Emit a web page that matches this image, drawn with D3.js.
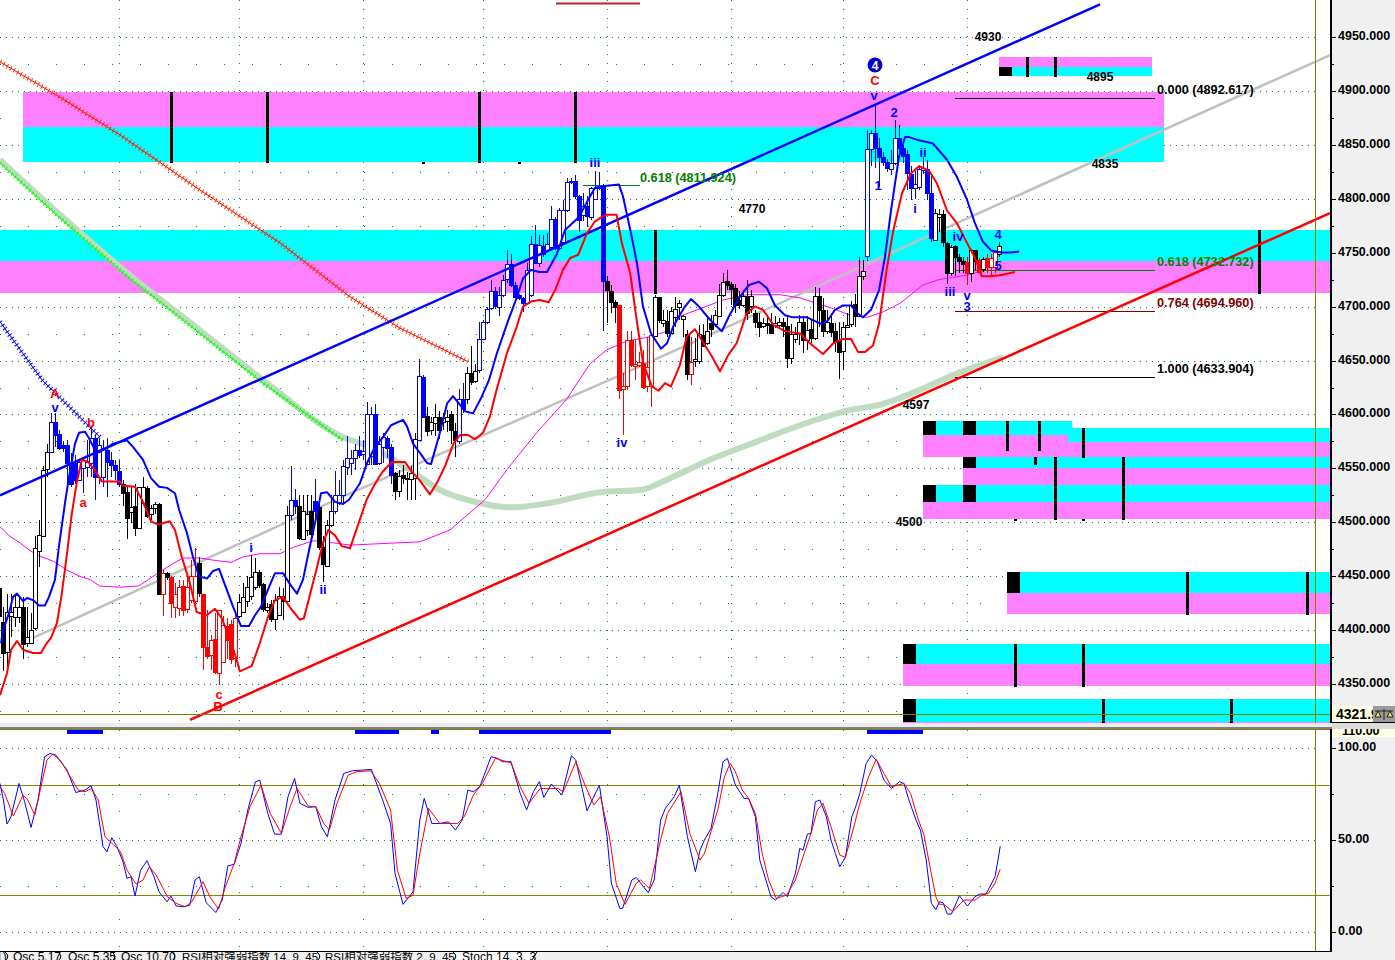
<!DOCTYPE html>
<html><head><meta charset="utf-8">
<script src="https://cdn.jsdelivr.net/npm/d3@7/dist/d3.min.js"></script>
<style>html,body{margin:0;padding:0;background:#fff;overflow:hidden}svg{display:block}
text{font-family:"Liberation Sans",Arial,sans-serif}</style></head><body>
<svg id="c" width="1395" height="960"></svg>
<script>
const opens=[4439,4408,4380,4413,4413,4413,4422,4388,4388,4402,
4473,4488,4549,4565,4593,4582,4572,4572,4555,4555,
4539,4551,4551,4555,4578,4542,4542,4567,4558,4553,
4548,4536,4528,4509,4515,4495,4518,4532,4507,4513,
4517,4434,4453,4449,4422,4421,4441,4420,4428,4427,
4462,4434,4385,4377,4392,4361,4371,4404,4406,4374,
4413,4417,4427,4431,4440,4454,4443,4419,4424,4410,
4414,4432,4427,4507,4521,4515,4485,4493,4511,4520,
4514,4477,4460,4498,4510,4518,4525,4552,4555,4560,
4567,4563,4554,4561,4600,4555,4570,4578,4570,4546,
4529,4544,4540,4540,4541,4577,4635,4599,4586,4592,
4598,4593,4594,4600,4585,4575,4614,4614,4638,4631,
4641,4670,4686,4698,4714,4700,4711,4725,4739,4720,
4711,4708,4703,4711,4758,4740,4756,4752,4755,4781,
4754,4759,4789,4815,4816,4802,4785,4793,4783,4800,
4810,4812,4724,4714,4704,4701,4623,4626,4669,4645,
4646,4648,4626,4627,4673,4709,4685,4687,4676,4691,
4699,4688,4675,4638,4649,4650,4674,4666,4685,4684,
4692,4711,4724,4721,4717,4706,4702,4710,4701,4694,
4686,4682,4685,4684,4683,4683,4686,4682,4653,4670,
4676,4686,4669,4679,4671,4710,4697,4678,4685,4677,
4669,4659,4681,4683,4702,4691,4728,4747,4846,4861,
4847,4839,4834,4827,4833,4856,4847,4841,4823,4810,
4810,4826,4827,4805,4762,4783,4786,4759,4731,4756,
4746,4742,4741,4731,4752,4743,4735,4745,4737,4737,
4749];
const closes=[4413,4379,4417,4417,4422,4422,4388,4394,4400,4476,
4488,4549,4565,4593,4581,4569,4569,4555,4536,4539,
4556,4558,4556,4578,4542,4572,4569,4556,4553,4548,
4536,4528,4504,4514,4495,4533,4533,4506,4513,4517,
4434,4453,4449,4425,4434,4440,4419,4440,4450,4450,
4434,4385,4377,4391,4361,4419,4405,4391,4374,4411,
4426,4431,4440,4449,4454,4442,4420,4422,4410,4428,
4432,4427,4507,4521,4515,4485,4511,4508,4490,4511,
4477,4461,4498,4511,4525,4525,4552,4560,4560,4567,
4562,4566,4600,4600,4554,4573,4579,4569,4544,4529,
4543,4541,4541,4546,4577,4636,4598,4585,4593,4598,
4586,4597,4598,4585,4577,4614,4605,4638,4630,4640,
4670,4686,4698,4714,4700,4711,4725,4739,4720,4709,
4708,4703,4734,4758,4740,4757,4749,4758,4781,4754,
4789,4789,4815,4816,4802,4780,4793,4784,4810,4810,
4812,4724,4716,4704,4699,4622,4626,4669,4646,4647,
4649,4626,4644,4674,4709,4688,4688,4676,4696,4698,
4703,4691,4638,4649,4651,4675,4664,4677,4679,4692,
4711,4723,4720,4716,4701,4701,4710,4694,4710,4686,
4681,4685,4683,4676,4685,4686,4682,4652,4675,4675,
4686,4669,4678,4671,4710,4697,4678,4686,4677,4667,
4658,4681,4683,4701,4691,4728,4733,4846,4861,4847,
4839,4834,4828,4833,4856,4847,4840,4823,4810,4814,
4827,4828,4805,4763,4787,4786,4760,4731,4755,4746,
4742,4739,4731,4752,4742,4732,4744,4737,4745,4751,
4756];
const highs=[4439,4422,4434,4434,4434,4431,4431,4422,4416,4487,
4502,4552,4573,4601,4601,4586,4575,4576,4564,4562,
4559,4559,4576,4589,4581,4578,4576,4578,4565,4558,
4558,4539,4533,4533,4536,4533,4542,4534,4516,4519,
4518,4456,4454,4450,4444,4447,4447,4450,4465,4476,
4468,4434,4419,4396,4416,4419,4413,4411,4410,4414,
4434,4444,4450,4470,4467,4456,4444,4425,4428,4434,
4440,4439,4515,4552,4531,4525,4525,4525,4525,4540,
4521,4487,4502,4525,4548,4539,4558,4580,4567,4573,
4580,4576,4612,4607,4610,4580,4583,4580,4573,4547,
4549,4553,4547,4552,4583,4651,4637,4607,4598,4610,
4603,4601,4604,4603,4592,4624,4629,4644,4663,4647,
4686,4688,4700,4725,4718,4718,4729,4752,4749,4723,
4712,4709,4740,4765,4776,4766,4766,4768,4793,4783,
4791,4799,4819,4819,4822,4803,4805,4802,4811,4826,
4825,4814,4728,4720,4706,4701,4638,4677,4677,4669,
4658,4660,4672,4675,4711,4709,4697,4697,4700,4709,
4706,4692,4678,4672,4671,4683,4684,4691,4692,4697,
4721,4731,4734,4723,4721,4714,4715,4725,4715,4697,
4694,4689,4692,4694,4691,4689,4689,4691,4684,4681,
4692,4691,4691,4688,4718,4717,4708,4697,4694,4685,
4686,4686,4694,4705,4712,4746,4743,4864,4864,4888,
4856,4843,4837,4845,4873,4868,4850,4845,4830,4826,
4831,4839,4836,4823,4790,4790,4789,4760,4757,4757,
4749,4746,4746,4753,4752,4745,4746,4749,4749,4751,
4760];
const lows=[4407,4362,4360,4394,4403,4407,4373,4385,4388,4400,
4459,4488,4542,4564,4570,4567,4565,4536,4533,4536,
4538,4527,4542,4542,4521,4536,4533,4524,4542,4539,
4533,4515,4485,4499,4487,4494,4516,4504,4502,4508,
4434,4413,4447,4411,4411,4413,4413,4416,4425,4425,
4431,4363,4373,4363,4360,4349,4371,4373,4369,4366,
4411,4416,4422,4428,4437,4439,4417,4416,4408,4400,
4413,4410,4425,4502,4508,4484,4484,4487,4487,4502,
4474,4445,4459,4496,4508,4516,4518,4544,4544,4549,
4560,4558,4553,4553,4553,4553,4555,4560,4536,4521,
4524,4536,4521,4521,4521,4576,4597,4580,4581,4580,
4577,4586,4584,4573,4561,4573,4601,4610,4627,4629,
4638,4669,4684,4697,4698,4691,4709,4722,4718,4708,
4706,4695,4703,4709,4739,4737,4746,4751,4752,4752,
4752,4757,4788,4814,4800,4769,4779,4774,4780,4799,
4808,4677,4685,4694,4685,4614,4581,4623,4644,4632,
4644,4624,4621,4607,4672,4685,4681,4672,4676,4681,
4688,4672,4632,4627,4644,4647,4664,4664,4672,4681,
4691,4709,4715,4701,4694,4698,4700,4688,4694,4680,
4672,4680,4675,4675,4680,4681,4672,4643,4647,4666,
4664,4657,4660,4666,4669,4681,4672,4675,4672,4658,
4633,4641,4680,4681,4681,4691,4725,4742,4830,4828,
4811,4830,4825,4822,4831,4842,4833,4808,4799,4800,
4808,4823,4799,4760,4762,4769,4755,4721,4728,4728,
4731,4731,4720,4723,4734,4731,4732,4731,4729,4731,
4746];
const toneRuns=[['k',13],['b',18],['k',10],['r',1],['k',1],['r',7],['k',1],['r',9],['k',13],['b',2],['k',4],['b',1],['k',4],['b',15],['k',6],['b',2],['k',8],['b',2],['k',3],['b',32],['k',3],['r',9],['k',9],['r',1],['k',43],['b',17],['k',8],['r',1],['k',2],['r',1],['k',1],['r',3],['k',1]];

const blueBandIdx=[0.5,1,2.5,3.5,4.5,6,7,8.5,10,11.5,12.5,14,15,16.5,17.5,19,20,21.5,22.5,24,25,27,28.5,32,33.5,36,38,40,42,44,45,47,48.5,50,52,53.5,55,57,58.5,60.5,62.5,64,65.5,67.5,69,71,72.5,74.5,76,77.5,79.5,80.5,82,84,86,87.5,90.2,92,94,96,98,101,102,103.5,105.5,107,108,110,112,113.5,115,116.5,118.5,120.5,122.5,124.5,127,129.5,131,133,135,137,139.5,141.5,143,145,147,149,152,155,156,158,159.5,161,163,165.5,167,168.5,170,171.5,173,175,177.7,180.7,182.5,185,187.5,190,192,194,196.5,198.5,202,205.5,207,209,211,213,214.5,216,218,220,221.5,223,225,226.5,227.5,230,233.5,237,239.5,242,244,246,248,250.5,253,255];
const blueBandVal=[4388,4400,4416,4431,4434,4427,4430,4428,4423,4423,4431,4447,4478,4518,4542,4573,4583,4584,4578,4567,4565,4569,4573,4576,4570,4558,4541,4533,4532,4527,4512,4490,4468,4450,4448,4455,4457,4437,4422,4404,4404,4414,4422,4440,4453,4453,4444,4434,4447,4474,4508,4527,4528,4519,4517,4521,4536,4555,4570,4579,4590,4595,4589,4573,4563,4555,4554,4580,4610,4617,4610,4603,4601,4615,4632,4657,4684,4709,4726,4734,4732,4732,4749,4771,4776,4783,4797,4810,4812,4813,4802,4768,4740,4700,4675,4661,4666,4681,4691,4700,4707,4700,4688,4677,4691,4708,4720,4723,4717,4701,4692,4690,4690,4684,4686,4697,4701,4701,4694,4690,4697,4715,4746,4789,4839,4857,4857,4854,4851,4836,4820,4799,4777,4760,4752,4750,4750,4751];
const redBandIdx=[0.25,2,3,4.5,6,8.5,10.5,11.9,13,14.5,15.7,17,18.2,19.4,20.7,22.3,24,25.7,30.2,31,34,36,38,39.8,42.7,44,45.7,47.7,49.4,51.9,54,55.7,57.8,59.4,60.2,63.2,65.2,67.3,69,71,73,75.2,76.2,77.8,79.4,81,82.3,84,85.7,87.75,91.9,93.6,95.7,98.2,101.5,103.2,105.2,107.7,109.4,111.5,113.6,115.3,117.3,119,121,122.7,124.4,127,129.4,131,133.2,135.2,137.4,139,141,142.8,144.8,147,149,151.5,154.4,155.7,157.8,159.4,161,163.2,164.9,166.5,168,170.25,171.9,174,176,178.2,180.25,182.3,184.4,186.9,189,191,193.6,196.6,200.25,202.75,206,208.6,211,213,214.75,216.5,218.5,220,221.9,223.6,225.75,227.9,230,232.5,234.5,237,239.5,242,244,245.7,247.8,250.25,254];
const redBandVal=[4340,4360,4382,4390,4382,4379,4379,4388,4393,4407,4434,4471,4508,4536,4558,4556,4548,4538,4538,4534,4533,4519,4501,4498,4501,4493,4468,4444,4417,4414,4420,4411,4391,4373,4362,4367,4388,4413,4428,4431,4420,4410,4411,4434,4457,4481,4493,4488,4478,4476,4521,4533,4546,4556,4556,4547,4539,4526,4536,4552,4573,4581,4581,4577,4583,4598,4623,4657,4681,4700,4705,4706,4704,4715,4734,4745,4748,4768,4779,4785,4785,4759,4731,4688,4648,4626,4622,4629,4626,4646,4672,4679,4667,4654,4640,4655,4666,4694,4700,4697,4683,4677,4675,4666,4656,4666,4670,4670,4658,4658,4664,4684,4734,4771,4805,4823,4830,4826,4814,4789,4777,4759,4745,4728,4728,4729,4732];
const magentaIdx=[0.25,2.75,5.25,7.75,9.4,13.6,16.9,20.25,22.75,25.25,30.25,34.85,37.75,41,43.6,46,50.25,53.6,58,61,65.25,70.25,73.6,78.6,83.6,87.75,105.25,112.75,117.75,121.5,127,134.4,141.9,147.75,152,157,162.75,167.75,170.25,175.25,181,186.9,195.25,200.25,204.4,208.6,212.75,217,221,225.25,231,235,241.9,246];
const magentaVal=[4496,4487,4481,4474,4470,4464,4456,4450,4447,4441,4440,4441,4448,4456,4462,4467,4467,4465,4463,4468,4471,4471,4477,4483,4481,4479,4482,4493,4509,4521,4549,4583,4614,4647,4660,4668,4672,4678,4691,4698,4706,4711,4711,4708,4703,4698,4692,4690,4695,4703,4720,4725,4729,4733];
const greyIdx=[7.25,87.75,154.5,220.25,257.75,332.75];
const greyVal=[4391,4527,4635,4745,4808,4933];
const channelUpIdx=[0.25,275.25];   const channelUpVal=[4525,4980];
const channelLowIdx=[47.75,332.75]; const channelLowVal=[4317,4786.6];
const redHatchIdx=[0.25,15.25,30.25,50.25,70.25,87.75,100.25,117.25];
const redHatchVal=[4926.6,4894,4859,4808,4759,4709,4680,4649];
const greenHatchIdx=[0.25,15.25,32.75,50.25,66,86];
const greenHatchVal=[4833,4782,4726,4675,4629,4576];
const blueHatchIdx=[0.25,10.75,25.25];
const blueHatchVal=[4686,4632,4579];
const paleGreenIdx=[0.25,15.25,32.75,50.25,66,86,92.75,102.75,110.25,120.25,127.75,137.75,150.25,160.25,167.75,177.75,190.25,200.25,212.75,220.25,230.25,240.25,251];
const paleGreenVal=[4836,4785,4729,4678,4632,4579,4570,4548.5,4530,4518,4514,4518,4528,4530,4541,4558,4576,4590,4604,4609,4623,4639,4653];

const stochBlueIdx=[0.25,1.1,2,3,5,6.4,8,9.75,11.4,12.75,14.2,17,19.2,21.5,23,24.25,26,27,28.2,29.5,31,32,33,34,35.4,37,38.75,40,42,43,44.3,46.2,47.7,49,50.1,51.8,54.2,55.8,57.2,58.8,60.5,62.2,64.1,65.2,67.2,68.9,70.6,72.25,73.9,75.25,77.3,79.2,80.6,82.1,84,86.2,88.4,93.1,96.2,97.9,99,101,103.5,105.2,106.3,108.2,110.2,112.4,114.1,115.8,117.2,118.6,120.2,123,124.7,125.8,128,130.3,131.9,133.6,135.1,136.2,138.1,140.7,143.1,144.2,147,150.1,152,153.1,155.2,155.9,158.2,159.3,162.3,163.8,165.4,166.6,168.8,170.1,172.1,174.1,175.25,176.35,178,179.7,181,182.1,184.1,186.3,187.4,189.1,190.2,193,194.1,196,197.1,199.1,200.2,201,202.1,203,204.1,205.2,206.85,208,209.1,210.2,211.6,213.2,214.05,215.2,216.8,218.15,219.6,221.25,223.1,225.1,226.25,227.35,229.25,230.35,231.8,233.1,234.2,235.1,236,237.1,238.1,240.1,242.1,244,245.1,246.75,249,249.75,250.3];
const stochBlueVal=[80.6,71.6,58.6,62.5,80.6,70.7,56.7,71.6,95.1,96.9,96,87.9,75.7,77,79.4,71.6,46.3,43.5,51.1,46.3,38.1,29.1,30,19.5,33.6,38.7,30,21.8,16.4,19.5,14.1,13.7,14.6,28.2,30,15.9,10.6,17.3,35.9,36.7,48.1,66.2,81.5,82.4,64.3,53.1,53.1,73.4,83.3,69.8,67.6,68,57.1,51.7,71.6,86.1,87.5,88.2,69.8,58.9,31.8,15,21.8,60.7,72.5,58.9,58.9,59.8,55.3,60.7,77,76.1,78.8,95.1,94.2,92.4,92.4,75.2,66.2,76.1,81.6,73,80.3,74.3,95.6,93.3,65.8,79.7,51.7,26.4,12.8,12.8,28.2,29.6,21.3,28.2,60.7,67.1,73.4,79.7,51.7,32.7,44.4,49.9,56.2,75.2,92.4,94.2,79.7,72.5,72.5,62.5,39,19.1,17.3,21.5,19.1,31.8,45.4,44.4,53.1,53.5,70.7,71.6,62.5,49.9,42.6,35.4,40.5,62.5,67.1,75.2,91.5,96,92.4,82.4,77.9,81.5,80.6,72.5,60.7,55.3,39,15.5,12.2,16.4,15.9,9.7,9.7,19.7,14.1,19.1,20.6,20.6,30,39,46.6];
const stochRedIdx=[0.25,1.4,3.6,6,7.2,8.95,10.3,12,13.4,15.3,17.55,19.8,21.5,23.1,24.8,26.5,28.7,30.4,32,34.3,36,37.6,39.3,42.1,44.3,46.6,48.2,51,52.7,54.9,56.6,58.8,60.5,62.75,65.5,67.8,70.6,72.8,74.5,77.3,79.2,81.2,82.6,84.5,87.3,89.5,92.9,95.1,97.9,99.6,101.8,103.5,105.2,107.4,110.2,114.65,116.3,118.6,120.8,124.1,128,130.3,132.5,135.3,139.8,141.1,144.2,146.5,148.7,150.4,152.6,154.3,156.5,159.3,160.4,162.6,165.4,167.1,170.5,172.7,175.25,176.35,178,179.7,181.35,182.8,184.1,185.8,187.4,189.1,190.8,192.4,194.3,196.9,199.1,201.3,203,204.6,206,208,210.2,211.6,213.5,215.2,217.4,219.3,221.25,223.1,226.25,227.9,229.6,231.25,232.9,234.2,235.1,236.2,238.45,241.2,244,245.65,247.3,249,250.3];
const stochRedVal=[78.8,75.2,62.9,74.3,71.6,63.4,77,93.3,96.5,93.3,85.2,77,76.1,77.9,71.6,51.7,47.2,43.5,33.6,26,28.2,35.4,30.9,19.1,15.5,13.7,16.4,27.3,19.1,12.4,24.5,37.2,51.7,68,79.7,64.3,53.5,68,77.9,68.3,68,58.9,55.3,69.8,85.2,87,87.5,80.6,66.2,33.6,18.2,20,42.6,67.1,58.9,58.9,62.5,74.3,80.6,94.2,91.8,78.8,69.8,77.9,77.9,76.1,92.4,79.7,68.9,73.4,51.7,26.4,15,26.4,28.2,23.6,49.9,64.3,76.1,53.5,39,42.6,54.4,66.2,84.2,91.5,87,77,72.5,64.3,42.6,28.2,18.2,20,28.2,42.6,53.5,66.2,69.8,57.1,41.7,40.5,55.3,69.8,84.2,93.7,86.1,78.8,80.6,75.2,62.5,52.6,33.6,19.1,15,15,11,17.3,17.3,20,20.9,26.4,34.1];

// supply / demand zones (pink + cyan bars)
const zoneStart=[6,0,250,250,231,241,231,252,226,226];
const zoneCyanEnd=[291.25,332.75,288.25,332.75,268.25,332.75,332.75,332.75,332.75,332.75];
const zonePinkEnd=[291.25,332.75,288.25,332.75,267.25,332.75,332.75,332.75,332.75,332.75];
const zoneCyanHigh=[4866.3,4770.9,4921.9,4587.5,4593.9,4560.6,4534.6,4454,4387.3,4336.4];
const zoneCyanLow=[4833.9,4742.2,4913.6,4574.5,4581,4550.4,4518.9,4434.6,4368.8,4315.1];
const zonePinkHigh=[4898.8,4742.2,4931.2,4574.5,4581,4550.4,4518.9,4434.6,4368.8,4315.1];
const zonePinkLow=[4866.3,4712.5,4921.9,4560.6,4560.6,4534.6,4503.1,4415.1,4348.4,4314.1];
const blockStart=[250,231,241,241,231,241,252,226,226];
const blockHigh=[4921.9,4593.9,4593.9,4560.6,4534.6,4534.6,4454,4387.3,4336.4];
const blockLow=[4913.6,4581,4581,4550.4,4518.9,4518.9,4434.6,4368.8,4315.1];
const tickIdx=[43,67,120,144,164,315,257,264,252,260,259,271,264,281,297,327,254,271,276,308,106,130,254,271];
const tickHigh=[4898.8,4898.8,4898.8,4898.8,4770.9,4770.9,4931.2,4931.2,4593.9,4593.9,4561,4587.5,4560.6,4560.6,4454,4454,4387.3,4387.3,4336.4,4336.4,4834,4834,4503,4503];
const tickLow=[4833,4833,4833,4833,4712,4712,4913,4913,4566,4566,4553,4559.7,4502,4502,4414.2,4414.2,4347.5,4347.5,4314.1,4314.1,4832,4832,4501,4501];

const fibLabels=["0.000 (4892.617)","0.618 (4732.732)","0.764 (4694.960)","1.000 (4633.904)"];
const fibLevels=[4892.617,4732.732,4694.96,4633.904];
const fibColors=["#000","#008000","#800000","#000"];
const noteText=["iii","iv","v","A","b","a","i","ii","c","B","C","v","1","2","ii","i","iv","4","5","iii","v","3","4930","4895","4835","4770","4597","4500"];
const noteIdx=[149,155.75,14,14,23,21,63,81,55,54.75,219,218.75,219.75,223.75,231,229,239.75,249.75,249.75,237.75,242,242,247.25,275.25,276.5,188.25,229.25,227.5];
const notePrice=[4833.9,4573.6,4606.9,4619.9,4593,4518,4476.3,4437.4,4340.1,4329,4909,4896,4811.7,4880.2,4843.2,4791.3,4765.3,4766.3,4737.6,4714.4,4710.7,4699.6,4950.6,4913.6,4833,4791.3,4608.8,4501.3];
const noteTone=["b","b","b","r","r","r","b","b","r","r","r","b","b","b","b","b","b","b","b","b","b","b","k","k","k","k","k","k"];
const gridIdx=[30,60,91,121,152,183,211,242];
const priceTicks=[4950,4900,4850,4800,4750,4700,4650,4600,4550,4500,4450,4400,4350];
const priceMinor=[4925,4875,4825,4775,4725,4675,4625,4575,4525,4475,4425,4375,4325];
const stochTicks=[100,50,0];
const stochMinor=[75,25];
const stochBarStart=[17,89,108,120,217];
const stochBarEnd=[26,100,110,153,231];
const lastPrice=4321.9, lastPriceLabel="4321.9";
const tabLabels=["1)","Osc 5.17","Osc 5.35","Osc 10.70","RSI相对强弱指数 14, 9, 45","RSI相对强弱指数 2, 9, 45","Stoch 14, 3, 3"];

const TONE={k:"#000",b:"#0000ff",r:"#ff0000"};
const tones=toneRuns.flatMap(([t,n])=>Array(n).fill(t));
const svg=d3.select("#c");
const W=1395,PR=1330,PB=724,ST=730,SB=951;
const x=d3.scaleLinear().domain([0,332.75]).range([-1,PR]);
const y=d3.scaleLinear().domain([4900,4350]).range([90.7,684.3]);
const s=d3.scaleLinear().domain([100,0]).range([747.7,932]);
const defs=svg.append("defs");
defs.append("clipPath").attr("id","pc").append("rect").attr("width",PR).attr("height",PB);
defs.append("clipPath").attr("id","sc").append("rect").attr("y",ST).attr("width",PR).attr("height",SB-ST);
svg.append("rect").attr("width",W).attr("height",960).attr("fill","#fff");
const P=svg.append("g").attr("clip-path","url(#pc)");
const S=svg.append("g").attr("clip-path","url(#sc)");
const TEAL="#007a7a";
function hgrid(g,scale,vals,dash,x2){g.selectAll(null).data(vals).join("line").attr("x1",0).attr("x2",x2)
 .attr("y1",d=>Math.round(scale(d))+.5).attr("y2",d=>Math.round(scale(d))+.5)
 .attr("stroke",TEAL).attr("stroke-dasharray",dash).attr("shape-rendering","crispEdges");}
function vgrid(g,a,b,dash){g.selectAll(null).data(gridIdx).join("line").attr("x1",d=>x(d)+.5).attr("x2",d=>x(d)+.5)
 .attr("y1",a).attr("y2",b).attr("stroke",TEAL).attr("stroke-dasharray",dash).attr("shape-rendering","crispEdges");}
hgrid(P,y,priceTicks,"1 5",1315); hgrid(P,y,priceMinor,"1 27",985); vgrid(P,0,PB,"1 8");
hgrid(S,s,stochTicks,"1 5",1315); hgrid(S,s,stochMinor,"1 27",985); vgrid(S,ST,SB,"1 26");

// zones
const zg=P.append("g").attr("shape-rendering","crispEdges");
zoneStart.forEach((z,i)=>{
 zg.append("rect").attr("x",x(z)).attr("width",x(zonePinkEnd[i])-x(z)).attr("y",y(zonePinkHigh[i])).attr("height",y(zonePinkLow[i])-y(zonePinkHigh[i])).attr("fill","#ff80ff");
 zg.append("rect").attr("x",x(z)).attr("width",x(zoneCyanEnd[i])-x(z)).attr("y",y(zoneCyanHigh[i])).attr("height",y(zoneCyanLow[i])-y(zoneCyanHigh[i])).attr("fill","#00ffff");
});
blockStart.forEach((b,i)=>zg.append("rect").attr("x",x(b)).attr("width",x(b+3.25)-x(b)).attr("y",y(blockHigh[i])).attr("height",y(blockLow[i])-y(blockHigh[i])).attr("fill","#000"));
tickIdx.forEach((t,i)=>zg.append("rect").attr("x",x(t)-1).attr("width",3).attr("y",y(tickHigh[i])).attr("height",y(tickLow[i])-y(tickHigh[i])).attr("fill","#000"));

const ln=(sc,cv)=>d3.line().x(d=>x(d[0])).y(d=>sc(d[1])).curve(cv||d3.curveLinear);
const zip=(a,b)=>a.map((v,i)=>[v,b[i]]);
function path(g,sc,a,b,col,w,extra,cv){const p=g.append("path").attr("d",ln(sc,cv)(zip(a,b))).attr("fill","none").attr("stroke",col).attr("stroke-width",w).attr("stroke-linejoin","round");if(extra)p.attr("stroke-dasharray",extra);return p;}

path(P,y,paleGreenIdx,paleGreenVal,"#c0dcc0",6,null,d3.curveMonotoneX);
path(P,y,greyIdx,greyVal,"#c0c0c0",2.5);
path(P,y,greenHatchIdx,greenHatchVal,"#00ff00",1);
path(P,y,greenHatchIdx,greenHatchVal,"#00ff00",4,"1 3");
path(P,y,redHatchIdx,redHatchVal,"#ff0000",1);
path(P,y,redHatchIdx,redHatchVal,"#ff3300",5,"1 3");
path(P,y,blueHatchIdx,blueHatchVal,"#0000ff",1);
path(P,y,blueHatchIdx,blueHatchVal,"#0000ff",5,"1 3");
path(P,y,magentaIdx,magentaVal,"#ff00ff",1);

// fib lines under candles
fibLevels.forEach((f,i)=>P.append("line").attr("x1",955).attr("x2",1155).attr("y1",Math.round(y(f))+.5-1).attr("y2",Math.round(y(f))+.5-1).attr("stroke",fibColors[i]).attr("shape-rendering","crispEdges"));
P.append("line").attr("x1",x(146)).attr("x2",x(160.25)).attr("y1",y(4811.924)).attr("y2",y(4811.924)).attr("stroke","#008000").attr("shape-rendering","crispEdges");
P.append("line").attr("x1",x(139.25)).attr("x2",x(160.25)).attr("y1",y(4980.8)).attr("y2",y(4980.8)).attr("stroke","#c02020").attr("stroke-width",2);

// candles
const cg=P.append("g").attr("shape-rendering","crispEdges");
opens.forEach((o,i)=>{
 const c=closes[i],col=TONE[tones[i]],cx=Math.round(x(i));
 cg.append("line").attr("x1",cx+.5).attr("x2",cx+.5).attr("y1",y(highs[i])).attr("y2",y(lows[i])).attr("stroke",col);
 const t=y(Math.max(o,c)),b=y(Math.min(o,c));
 cg.append("rect").attr("x",cx-1.5).attr("width",4).attr("y",Math.round(t)+.5).attr("height",Math.max(1,Math.round(b-t)))
  .attr("fill",c<o?col:"#fff").attr("stroke",col);
});

path(P,y,channelUpIdx,channelUpVal,"#0000ff",2.5);
path(P,y,channelLowIdx,channelLowVal,"#ff0000",2.5);
path(P,y,blueBandIdx,blueBandVal,"#0000ff",2);
path(P,y,redBandIdx,redBandVal,"#ff0000",2);

// fib labels + notes
const TF="font-weight:700;font-size:12.7px";
const NF="font-weight:700;font-size:13px";
const NN="font-weight:700;font-size:12px";
fibLabels.forEach((t,i)=>P.append("text").attr("x",1157).attr("y",y(fibLevels[i])-5).attr("style",TF).attr("fill",fibColors[i]).text(t));
P.append("text").attr("x",640).attr("y",182).attr("style",TF).attr("fill","#008000").text("0.618 (4811.924)");
noteText.forEach((t,i)=>P.append("text").attr("x",x(noteIdx[i])).attr("y",y(notePrice[i])+4.5).attr("text-anchor","middle").attr("style",noteTone[i]=="k"?NN:NF).attr("fill",TONE[noteTone[i]]).text(t));
P.append("circle").attr("cx",x(219)).attr("cy",y(4923.8)).attr("r",7.5).attr("fill","#0000cc");
P.append("text").attr("x",x(219)).attr("y",y(4923.8)+4.5).attr("text-anchor","middle").attr("style",NN).attr("fill","#fff").text("4");

// olive lines
P.append("line").attr("x1",0).attr("x2",PR).attr("y1",Math.round(y(lastPrice))-.5).attr("y2",Math.round(y(lastPrice))-.5).attr("stroke","#808000").attr("shape-rendering","crispEdges");
svg.append("line").attr("x1",1315.5).attr("x2",1315.5).attr("y1",0).attr("y2",SB).attr("stroke","#808000").attr("shape-rendering","crispEdges");

// stochastic
[80,20].forEach(v=>S.append("line").attr("x1",0).attr("x2",PR).attr("y1",Math.round(s(v))+.5).attr("y2",Math.round(s(v))+.5).attr("stroke","#888800").attr("stroke-width",1).attr("shape-rendering","crispEdges"));
path(S,s,stochBlueIdx,stochBlueVal,"#0000ff",1);
path(S,s,stochRedIdx,stochRedVal,"#ff0000",1);
stochBarStart.forEach((b,i)=>S.append("rect").attr("x",x(b)).attr("width",x(stochBarEnd[i])-x(b)).attr("y",730).attr("height",4).attr("fill","#0000ff"));

// right axis panel
svg.append("rect").attr("x",PR).attr("y",0).attr("width",W-PR).attr("height",960).attr("fill","#f0f0f0");
svg.append("rect").attr("x",PR).attr("y",0).attr("width",2).attr("height",952).attr("fill","#000");
const axStyle=g=>{g.select(".domain").remove();g.selectAll("text").attr("style","font-weight:700;font-size:12.5px").attr("fill","#000").attr("x",7).attr("dy",".2em");g.selectAll("line").attr("stroke","#000").attr("shape-rendering","crispEdges");};
svg.append("g").attr("transform",`translate(${PR+1},0)`).call(d3.axisRight(y).tickValues(priceTicks).tickSize(5).tickFormat(d3.format(".3f"))).call(axStyle);
svg.append("g").attr("transform",`translate(${PR+1},0)`).call(d3.axisRight(y).tickValues(priceMinor).tickSize(3).tickFormat("")).call(axStyle);
svg.append("g").attr("transform",`translate(${PR+1},0)`).call(d3.axisRight(s).tickValues(stochTicks).tickSize(5).tickFormat(d3.format(".2f"))).call(axStyle);
svg.append("g").attr("transform",`translate(${PR+1},0)`).call(d3.axisRight(s).tickValues(stochMinor).tickSize(3).tickFormat("")).call(axStyle);

// last price tag + balance icon
svg.append("rect").attr("x",1332).attr("y",706).attr("width",42).attr("height",16).attr("fill","#ffffe1");
svg.append("rect").attr("x",1332).attr("y",722).attr("width",63).attr("height",1).attr("fill","#000");
svg.append("text").attr("x",1336).attr("y",719).attr("style","font-weight:700;font-size:14px").attr("fill","#000").text(lastPriceLabel);
svg.append("rect").attr("x",1373).attr("y",706).attr("width",22).attr("height",16).attr("fill","#9a9a9a");
svg.append("path").attr("d","M1384 709V720M1375 711H1393M1378 711L1375 717H1381ZM1390 711L1387 717H1393Z").attr("fill","#f0e060").attr("stroke","#222").attr("stroke-width",1);

// panel divider
svg.append("rect").attr("x",0).attr("y",723).attr("width",W).attr("height",4).attr("fill","#ececec");
svg.append("rect").attr("x",0).attr("y",727).attr("width",W).attr("height",2).attr("fill","#808080");
svg.append("rect").attr("x",0).attr("y",729).attr("width",PR).attr("height",1).attr("fill","#808000");
svg.append("rect").attr("x",1332).attr("y",729).attr("width",63).attr("height",8).attr("fill","#ffffe1");
svg.append("text").attr("x",1342).attr("y",735).attr("style","font-weight:700;font-size:12.5px").attr("fill","#000").text("110.00");
svg.append("rect").attr("x",1332).attr("y",723).attr("width",63).attr("height",6).attr("fill","#dcdcdc");

// tab strip
svg.append("rect").attr("x",0).attr("y",952).attr("width",W).attr("height",8).attr("fill","#f0f0f0");
svg.append("rect").attr("x",0).attr("y",951).attr("width",PR+2).attr("height",1).attr("fill","#000");
const tabX=[-4,13,68,121,182,325,462], tabEnd=[7,60,114,174,319,455,532], tabSize=[12,12,12,12,11.5,11.5,12];
svg.append("path").attr("d",`M${tabX[6]-6} 952L${tabX[6]-4} 960H${tabEnd[6]}L${tabEnd[6]+5} 952Z`).attr("fill","#fff");
tabLabels.forEach((t,i)=>{
 svg.append("path").attr("d",i==6?`M${tabEnd[i]} 960L${tabEnd[i]+5} 952`:`M${tabEnd[i]-2} 952Q${tabEnd[i]+3} 956 ${tabEnd[i]-1} 960`).attr("fill","none").attr("stroke","#000");
 svg.append("text").attr("x",tabX[i]).attr("y",961).attr("style",`font-size:${tabSize[i]}px;font-family:"Liberation Sans","Noto Sans CJK SC",sans-serif`).attr("fill","#000").text(t);
});
</script></body></html>
